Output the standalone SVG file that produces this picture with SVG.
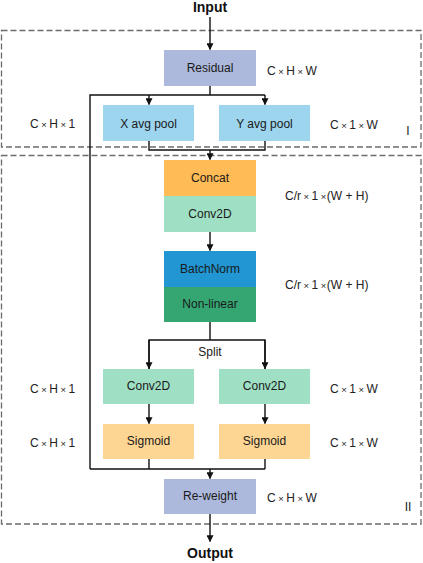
<svg xmlns="http://www.w3.org/2000/svg" width="423" height="563" viewBox="0 0 423 563">
<style>
text{font-family:"Liberation Sans",Arial,sans-serif;font-size:12px;fill:#1a1a1a}
.c{text-anchor:middle}
.t{font-weight:bold;font-size:14px;fill:#111}
.lbl{fill:#222}
.x{font-size:9.5px}
.dash{fill:none;stroke:#6b6b6b;stroke-width:1.3;stroke-dasharray:6 3}
.ln{fill:none;stroke:#111;stroke-width:1.4}
.n{stroke:none}
</style>
<defs>
<marker id="ah" viewBox="0 0 10 10" refX="9" refY="5" markerWidth="7" markerHeight="7" markerUnits="userSpaceOnUse" orient="auto"><path d="M0,0 L10,5 L0,10 z" fill="#111"/></marker>
</defs>
<rect width="423" height="563" fill="#fff"/>
<g id="regions">
<rect class="dash" x="1.5" y="30.5" width="419.5" height="116.5"/>
<rect class="dash" x="1.5" y="155.5" width="419.5" height="368.5"/>
<text x="408" y="135" class="c">I</text>
<text x="408" y="511" class="c">II</text>
</g>
<g id="connectors">
<line class="ln" x1="210" y1="17" x2="210" y2="49.5" marker-end="url(#ah)"/>
<polyline class="ln" points="210,86 210,95"/>
<polyline class="ln" points="90,469 90,95 265,95"/>
<line class="ln" x1="149" y1="95" x2="149" y2="104.5" marker-end="url(#ah)"/>
<line class="ln" x1="265" y1="95" x2="265" y2="104.5" marker-end="url(#ah)"/>
<polyline class="ln" points="149,141 149,150 265,150 265,141"/>
<line class="ln" x1="210" y1="150" x2="210" y2="159.5" marker-end="url(#ah)"/>
<line class="ln" x1="210" y1="232" x2="210" y2="250.5" marker-end="url(#ah)"/>
<polyline class="ln" points="210,322 210,340"/>
<polyline class="ln" points="149,369 149,340 265,340 265,369"/>
<line class="ln" x1="149" y1="340" x2="149" y2="368.5" marker-end="url(#ah)"/>
<line class="ln" x1="265" y1="340" x2="265" y2="368.5" marker-end="url(#ah)"/>
<line class="ln" x1="149" y1="404" x2="149" y2="423.5" marker-end="url(#ah)"/>
<line class="ln" x1="265" y1="404" x2="265" y2="423.5" marker-end="url(#ah)"/>
<polyline class="ln" points="90,469 265,469"/>
<polyline class="ln" points="149,459 149,469"/>
<polyline class="ln" points="265,459 265,469"/>
<line class="ln" x1="210" y1="469" x2="210" y2="478.5" marker-end="url(#ah)"/>
<line class="ln" x1="210" y1="514" x2="210" y2="541.5" marker-end="url(#ah)"/>
<text x="210" y="356" class="c">Split</text>
</g>
<g id="input"><text x="210" y="12" class="c t">Input</text></g>
<g id="output"><text x="210" y="558" class="c t">Output</text></g>
<g id="residual">
<rect class="n" x="164" y="50" width="92" height="36" fill="#adb9dc"/>
<text x="210" y="72" class="c">Residual</text>
<text x="267" y="75" class="lbl">C<tspan class="x" dx="2.5">×</tspan><tspan dx="2.5">H</tspan><tspan class="x" dx="2.5">×</tspan><tspan dx="2.5">W</tspan></text>
</g>
<g id="xpool">
<rect class="n" x="103" y="105" width="91" height="36" fill="#9dd4ee"/>
<text x="148.5" y="128" class="c">X avg pool</text>
<text x="30" y="128" class="lbl">C<tspan class="x" dx="2.5">×</tspan><tspan dx="2.5">H</tspan><tspan class="x" dx="2.5">×</tspan><tspan dx="2.5">1</tspan></text>
</g>
<g id="ypool">
<rect class="n" x="219" y="105" width="91" height="36" fill="#9dd4ee"/>
<text x="264.5" y="128" class="c">Y avg pool</text>
<text x="330" y="129" class="lbl">C<tspan class="x" dx="2.5">×</tspan><tspan dx="2.5">1</tspan><tspan class="x" dx="2.5">×</tspan><tspan dx="2.5">W</tspan></text>
</g>
<g id="concat">
<rect class="n" x="164" y="160" width="92" height="36" fill="#ffbb56"/>
<text x="210" y="182" class="c">Concat</text>
</g>
<g id="conv2d">
<rect class="n" x="164" y="196" width="92" height="36" fill="#9fe0c4"/>
<text x="210" y="218" class="c">Conv2D</text>
<text x="285" y="200" class="lbl">C/r<tspan class="x" dx="2.5">×</tspan><tspan dx="2.5">1</tspan><tspan class="x" dx="2.5">×</tspan><tspan dx="0.5">(W + H)</tspan></text>
</g>
<g id="batchnorm">
<rect class="n" x="164" y="251" width="92" height="36" fill="#2196d3"/>
<text x="210" y="273" class="c">BatchNorm</text>
</g>
<g id="nonlinear">
<rect class="n" x="164" y="287" width="92" height="35" fill="#35a672"/>
<text x="210" y="308" class="c">Non-linear</text>
<text x="285" y="289" class="lbl">C/r<tspan class="x" dx="2.5">×</tspan><tspan dx="2.5">1</tspan><tspan class="x" dx="2.5">×</tspan><tspan dx="0.5">(W + H)</tspan></text>
</g>
<g id="conv2d-h">
<rect class="n" x="103" y="369" width="91" height="35" fill="#9fe0c4"/>
<text x="148.5" y="390" class="c">Conv2D</text>
<text x="30" y="393" class="lbl">C<tspan class="x" dx="2.5">×</tspan><tspan dx="2.5">H</tspan><tspan class="x" dx="2.5">×</tspan><tspan dx="2.5">1</tspan></text>
</g>
<g id="conv2d-w">
<rect class="n" x="219" y="369" width="91" height="35" fill="#9fe0c4"/>
<text x="264.5" y="390" class="c">Conv2D</text>
<text x="330" y="393" class="lbl">C<tspan class="x" dx="2.5">×</tspan><tspan dx="2.5">1</tspan><tspan class="x" dx="2.5">×</tspan><tspan dx="2.5">W</tspan></text>
</g>
<g id="sigmoid-h">
<rect class="n" x="103" y="424" width="91" height="35" fill="#fed694"/>
<text x="148.5" y="445" class="c">Sigmoid</text>
<text x="30" y="447" class="lbl">C<tspan class="x" dx="2.5">×</tspan><tspan dx="2.5">H</tspan><tspan class="x" dx="2.5">×</tspan><tspan dx="2.5">1</tspan></text>
</g>
<g id="sigmoid-w">
<rect class="n" x="219" y="424" width="91" height="35" fill="#fed694"/>
<text x="264.5" y="445" class="c">Sigmoid</text>
<text x="330" y="447" class="lbl">C<tspan class="x" dx="2.5">×</tspan><tspan dx="2.5">1</tspan><tspan class="x" dx="2.5">×</tspan><tspan dx="2.5">W</tspan></text>
</g>
<g id="reweight">
<rect class="n" x="164" y="479" width="92" height="35" fill="#adb9dc"/>
<text x="210" y="500" class="c">Re-weight</text>
<text x="267" y="502" class="lbl">C<tspan class="x" dx="2.5">×</tspan><tspan dx="2.5">H</tspan><tspan class="x" dx="2.5">×</tspan><tspan dx="2.5">W</tspan></text>
</g>
</svg>
